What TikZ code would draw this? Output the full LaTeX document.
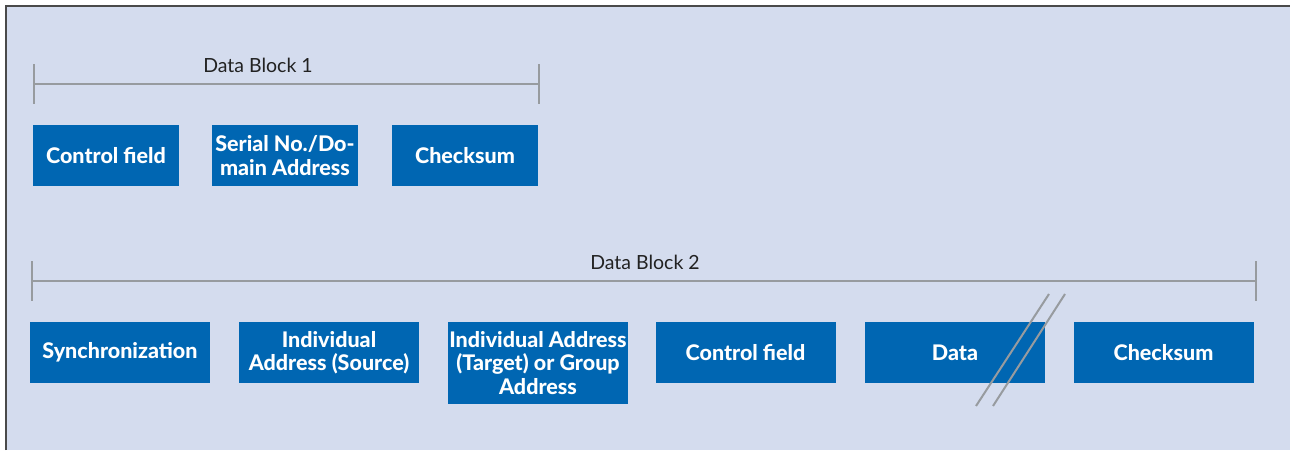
\documentclass[tikz,border=0pt]{standalone}
\usepackage{fontspec}
\setmainfont{Lato}[BoldFont={Lato Heavy}]
\definecolor{bgblue}{HTML}{D4DCEE}
\definecolor{boxblue}{HTML}{0066B2}
\definecolor{linegray}{HTML}{979B9F}
\definecolor{bordergray}{HTML}{4A4A4A}
\definecolor{labeltext}{HTML}{222222}
\tikzset{
  fieldbox/.style={fill=boxblue, text=white, inner sep=0pt, align=center,
    minimum height=61pt, font=\bfseries\fontsize{21.5}{23.5}\selectfont},
  bracketline/.style={draw=linegray, line width=2.2pt},
  slashline/.style={draw=linegray, line width=2pt},
  blocklabel/.style={text=labeltext, inner sep=0pt, font=\fontsize{19.5}{22}\selectfont}
}
\begin{document}
\begin{tikzpicture}[x=1pt,y=-1pt]
\useasboundingbox (0,0) rectangle (1290,450);
\fill[bgblue] (6,6) rectangle (1290,450);
\draw[bordergray, line width=1.5pt] (6,450) -- (6,6) -- (1290,6);

% Data Block 1
\coordinate (b1l) at (34,84);
\coordinate (b1r) at (539,84);
\draw[bracketline] (b1l) -- (b1r);
\draw[bracketline] ([yshift=20pt]b1l) -- ([yshift=-20pt]b1l);
\draw[bracketline] ([yshift=20pt]b1r) -- ([yshift=-20pt]b1r);
\node[blocklabel] (lab1) at (258,65) {Data Block 1};

\node[fieldbox, minimum width=146pt] (cf1) at (106,155.5) {Control field};
\node[fieldbox, minimum width=146pt] (sn1) at (285,155.5) {Serial No./Do-\\main Address};
\node[fieldbox, minimum width=146pt] (cs1) at (465,155.5) {Checksum};

% Data Block 2
\coordinate (b2l) at (32,281);
\coordinate (b2r) at (1256,281);
\draw[bracketline] (b2l) -- (b2r);
\draw[bracketline] ([yshift=20pt]b2l) -- ([yshift=-20pt]b2l);
\draw[bracketline] ([yshift=20pt]b2r) -- ([yshift=-20pt]b2r);
\node[blocklabel] (lab2) at (645,262) {Data Block 2};

\node[fieldbox, minimum width=180pt] (sync) at (120,352.5) {Synchronization};
\node[fieldbox, minimum width=180pt] (src) at (329,352.5) {Individual\\Address (Source)};
\node[fieldbox, minimum width=180pt, minimum height=82pt] (tgt) at (538,363) {Individual Address\\(Target) or Group\\Address};
\node[fieldbox, minimum width=180pt] (cf2) at (745.5,352.5) {Control field};
\node[fieldbox, minimum width=180pt] (data) at (955,352.5) {Data};
\node[fieldbox, minimum width=180pt] (cs2) at (1163.5,352.5) {Checksum};

% break marks
\coordinate (s1a) at (976,406);
\coordinate (s1b) at (1049,294);
\coordinate (s2a) at (993,406);
\coordinate (s2b) at (1065,294);
\draw[slashline] (s1a) -- (s1b);
\draw[slashline] (s2a) -- (s2b);
\end{tikzpicture}
\end{document}
